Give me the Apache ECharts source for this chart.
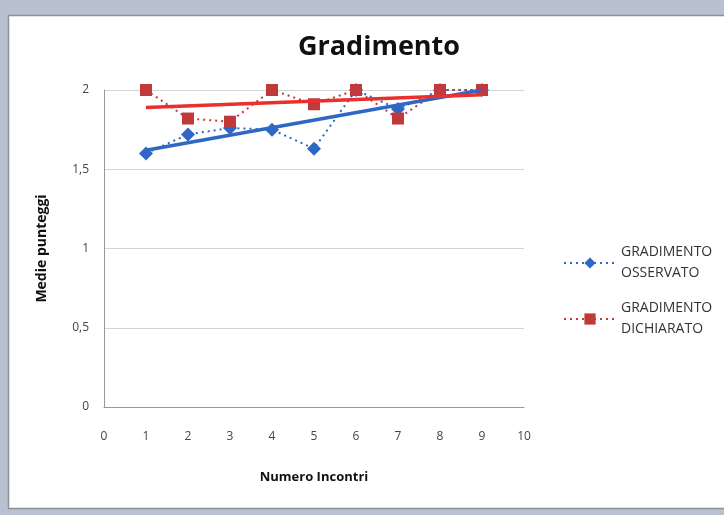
<!DOCTYPE html>
<html>
<head>
<meta charset="utf-8">
<script src="https://cdn.jsdelivr.net/npm/echarts@6/dist/echarts.min.js"></script>
<style>
  html, body { margin: 0; padding: 0; background: #b9c1d1; }
  #chart { width: 724px; height: 515px; }
</style>
</head>
<body>
<div id="chart"></div>
<script>
// Incontri (x) and average scores per meeting
const incontri = [1, 2, 3, 4, 5, 6, 7, 8, 9];
const osservato = [1.60, 1.72, 1.76, 1.75, 1.63, 2.00, 1.88, 2.00, 2.00];
const dichiarato = [2.00, 1.82, 1.80, 2.00, 1.91, 2.00, 1.82, 2.00, 2.00];

// Linear trend lines: start/end values at the first and last meeting
const trendX = [1, 9];
const trendOsservato = [1.62, 2.00];
const trendDichiarato = [1.89, 1.97];

const xTicks = [0, 1, 2, 3, 4, 5, 6, 7, 8, 9, 10];
const yTicks = [0, 0.5, 1, 1.5, 2];

const nomeOss = 'GRADIMENTO\nOSSERVATO';
const nomeDic = 'GRADIMENTO\nDICHIARATO';

const blu = '#2f68c4';
const rosso = '#c0393b';
const rossoTrend = '#e8312c';
const font = '"Open Sans", "Noto Sans", sans-serif';

const pairs = (xs, ys) => xs.map((x, i) => [x, ys[i]]);

const chart = echarts.init(document.getElementById('chart'));
chart.setOption({
  animation: false,
  backgroundColor: '#b9c1d1',
  graphic: [{
    type: 'rect',
    z: -10,
    shape: { x: 8.5, y: 15.5, width: 730, height: 493 },
    style: { fill: '#ffffff', stroke: '#8c9098', lineWidth: 1.5 }
  }],
  title: {
    text: 'Gradimento',
    left: 374, top: 29, textAlign: 'center',
    textStyle: { fontFamily: font, fontSize: 27, fontWeight: 'bold', color: '#111' }
  },
  legend: {
    data: [nomeOss, nomeDic],
    orient: 'vertical',
    left: 558, top: 237,
    itemWidth: 52, itemHeight: 14, itemGap: 14,
    textStyle: { fontFamily: font, fontSize: 14, color: '#333', lineHeight: 21 }
  },
  grid: { left: 104, right: 200, top: 90, bottom: 108 },
  xAxis: {
    type: 'value', min: 0, max: 10, interval: 1,
    name: 'Numero Incontri', nameLocation: 'middle', nameGap: 64,
    nameTextStyle: { fontFamily: font, fontSize: 13, fontWeight: 'bold', color: '#111' },
    axisLine: { lineStyle: { color: '#999' } },
    axisTick: { show: false },
    splitLine: { show: false },
    axisLabel: {
      fontFamily: font, fontSize: 12, color: '#444', margin: 24,
      formatter: v => xTicks.includes(v) ? String(v) : ''
    }
  },
  yAxis: {
    type: 'value', min: 0, max: 2, interval: 0.5,
    name: 'Medie punteggi', nameLocation: 'middle', nameGap: 55,
    nameTextStyle: { fontFamily: font, fontSize: 14, fontWeight: 'bold', color: '#111' },
    axisLine: { show: true, lineStyle: { color: '#999' } },
    axisTick: { show: false },
    splitLine: { lineStyle: { color: '#d4d4d4' } },
    axisLabel: {
      fontFamily: font, fontSize: 12, color: '#444', margin: 15,
      formatter: v => yTicks.includes(v) ? String(v).replace('.', ',') : ''
    }
  },
  series: [
    {
      name: nomeOss, type: 'line', data: pairs(incontri, osservato),
      symbol: 'diamond', symbolSize: 14,
      lineStyle: { color: blu, width: 2, type: [2, 4] },
      itemStyle: { color: blu }, z: 3
    },
    {
      name: nomeDic, type: 'line', data: pairs(incontri, dichiarato),
      symbol: 'rect', symbolSize: 12,
      lineStyle: { color: rosso, width: 2, type: [2, 4] },
      itemStyle: { color: rosso }, z: 3
    },
    {
      name: 'trend osservato', type: 'line', data: pairs(trendX, trendOsservato),
      symbol: 'none', lineStyle: { color: blu, width: 3.5 }, z: 4, silent: true
    },
    {
      name: 'trend dichiarato', type: 'line', data: pairs(trendX, trendDichiarato),
      symbol: 'none', lineStyle: { color: rossoTrend, width: 3.5 }, z: 4, silent: true
    }
  ]
});
</script>
</body>
</html>
